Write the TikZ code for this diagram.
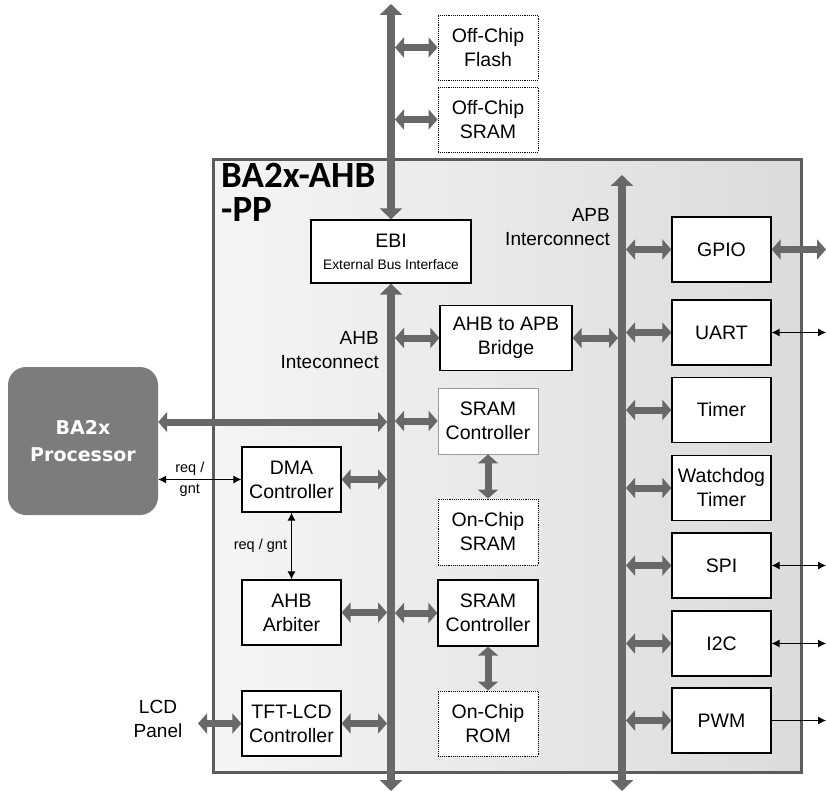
\documentclass[tikz,border=0pt]{standalone}
\usepackage{fontspec}
\setmainfont{Liberation Sans}
\newfontfamily\titlefont{Carlito}
\newfontfamily\procfont{DejaVu Sans}
\usepackage{tikz}
\usetikzlibrary{arrows.meta}
\usepackage{xcolor}
\definecolor{busgray}{HTML}{686868}
\definecolor{framegray}{HTML}{5C5C5C}
\definecolor{procgray}{HTML}{7B7C7E}

\begin{document}
\begin{tikzpicture}[x=1pt,y=-1pt,
  blk/.style={draw=black,line width=1.3pt,fill=white,minimum width=99pt,minimum height=65pt,
    inner sep=0pt,align=center,font=\fontsize{19.5}{24}\selectfont},
  memblk/.style={blk,line width=0.9pt,densely dotted},
  busboth/.style={draw=busgray,line width=8pt,{Triangle[length=11pt,width=22pt]}-{Triangle[length=11pt,width=22pt]}},
  link/.style={draw=busgray,line width=7pt,{Triangle[length=9pt,width=20pt]}-{Triangle[length=9pt,width=20pt]}},
  sig/.style={draw=black,line width=0.9pt,{Latex[length=8pt,width=8pt]}-{Latex[length=8pt,width=8pt]}},
  sigout/.style={draw=black,line width=0.9pt,arrows={-Latex[length=8pt,width=8pt]}},
  lbl/.style={font=\fontsize{19}{24}\selectfont,align=right,inner sep=0pt},
  small/.style={font=\fontsize{14.5}{17}\selectfont,inner sep=0pt}]
\useasboundingbox (0,0) rectangle (826,791);

% chip frame
\shade[left color=black!4,right color=black!14] (213,160) rectangle (801,772);
\draw[framegray,line width=3pt] (213,160) rectangle (801,772);
\node[anchor=north west,inner sep=0pt,align=left,
  font=\titlefont\bfseries\fontsize{37}{34}\selectfont] (title) at (221,163) {BA2x-AHB\\-PP};

% bus coordinates
\coordinate (ahbtop) at (391,4);
\coordinate (ahbbot) at (391,791);
\coordinate (apbtop) at (622,175);
\coordinate (apbbot) at (622,791);
\coordinate (ahbL) at (387,0);
\coordinate (ahbR) at (395,0);
\coordinate (apbL) at (618,0);
\coordinate (apbR) at (626,0);
\coordinate (edge) at (826,0);

% blocks
\node[memblk,minimum width=100pt] (flash) at (488,47.5) {Off-Chip\\Flash};
\node[memblk,minimum width=100pt] (offsram) at (488,119.5) {Off-Chip\\SRAM};
\node[blk,minimum width=160pt,minimum height=63pt] (ebi) at (391,251.5)
  {EBI\\[-2pt]{\fontsize{13.8}{16}\selectfont External Bus Interface}};
\node[blk,minimum width=132pt] (bridge) at (506,338) {AHB to APB\\Bridge};
\node[blk,minimum width=100pt,minimum height=66pt,draw=black!40,line width=0.8pt] (sramc1) at (488,421) {SRAM\\Controller};
\node[memblk,minimum width=100pt,minimum height=66pt] (onsram) at (488,532) {On-Chip\\SRAM};
\node[blk,minimum width=100pt,minimum height=66pt] (sramc2) at (488,613) {SRAM\\Controller};
\node[memblk,minimum width=100pt] (rom) at (488,723.5) {On-Chip\\ROM};
\node[blk] (dma) at (291.5,479.5) {DMA\\Controller};
\node[blk] (arb) at (291.5,612.5) {AHB\\Arbiter};
\node[blk] (tft) at (291.5,723.5) {TFT-LCD\\Controller};
\node[rounded corners=18pt,fill=procgray,text=white,minimum width=150pt,minimum height=148pt,
  align=center,font=\procfont\bfseries\fontsize{19}{27}\selectfont] (proc) at (83,441) {BA2x\\Processor};

\node[blk] (gpio) at (721.5,249.5) {GPIO};
\node[blk] (uart) at (721.5,332.5) {UART};
\node[blk] (timer) at (721.5,410) {Timer};
\node[blk] (wdt) at (721.5,488) {Watchdog\\Timer};
\node[blk] (spi) at (721.5,565.5) {SPI};
\node[blk] (i2c) at (721.5,643.5) {I2C};
\node[blk] (pwm) at (721.5,720.5) {PWM};

% labels
\node[lbl,anchor=north east] (ahblbl) at (379,331) {AHB\\Inteconnect};
\node[lbl,anchor=north east] (apblbl) at (610,208) {APB\\Interconnect};
\node[lbl,align=center] (lcd) at (158,719) {LCD\\Panel};

% buses
\draw[busboth] (ebi.north) -- (ahbtop);
\draw[busboth] (ebi.south) -- (ahbbot);
\draw[busboth] (apbtop) -- (apbbot);

% AHB side
\draw[link] (flash.west -| ahbR) -- (flash.west);
\draw[link] (offsram.west -| ahbR) -- (offsram.west);
\draw[link] (bridge.west -| ahbR) -- (bridge.west);
\draw[link] (proc.east |- 0,422) -- (ahbL |- 0,422);
\draw[link] (sramc1.west -| ahbR) -- (sramc1.west);
\draw[link] (dma.east) -- (dma.east -| ahbL);
\draw[link] (arb.east) -- (arb.east -| ahbL);
\draw[link] (sramc2.west -| ahbR) -- (sramc2.west);
\draw[link] (tft.east) -- (tft.east -| ahbL);
\coordinate (lcdend) at (198,723.5);
\draw[link] (lcdend) -- (tft.west);
\draw[link] (sramc1.south) -- (onsram.north);
\draw[link] (sramc2.south) -- (rom.north);

% APB side
\draw[link] (bridge.east) -- (bridge.east -| apbL);
\foreach \n in {gpio,uart,timer,wdt,spi,i2c,pwm}
  \draw[link] (\n.west -| apbR) -- (\n.west);
\draw[link] (gpio.east) -- (gpio.east -| edge);
\foreach \n in {uart,spi,i2c}
  \draw[sig] (\n.east) -- (\n.east -| edge);
\draw[sigout] (pwm.east) -- (pwm.east -| edge);

% req / gnt
\draw[sig] (proc.east |- dma.west) -- (dma.west)
  node[small,pos=0.38,above=4pt] {req /} node[small,pos=0.38,below=4pt] {gnt};
\draw[sig] (dma.south) -- (arb.north) node[small,midway,left=4pt] {req / gnt};
\end{tikzpicture}
\end{document}
